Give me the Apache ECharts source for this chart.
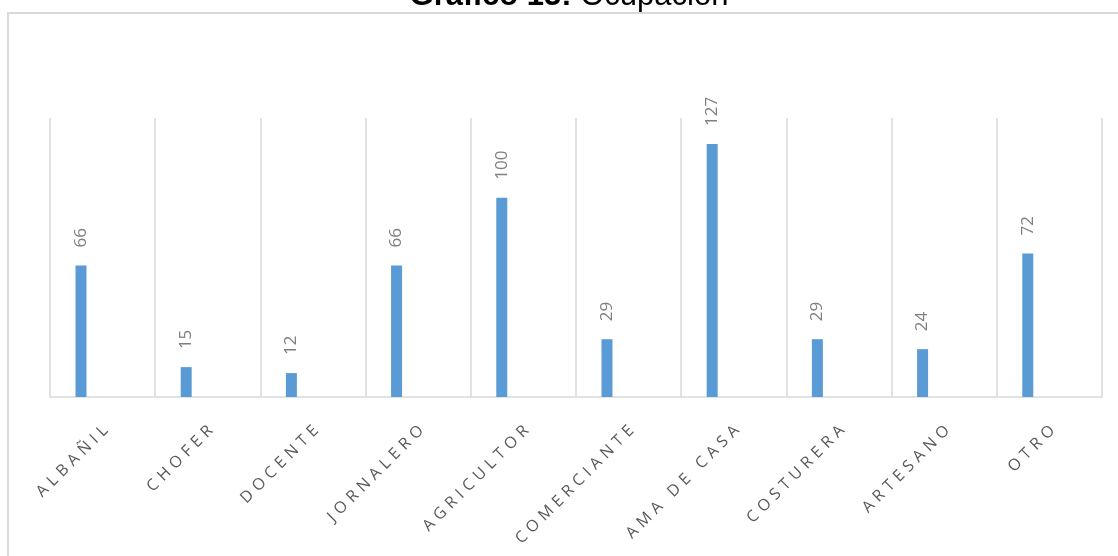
<!DOCTYPE html>
<html>
<head>
<meta charset="utf-8">
<script src="https://cdn.jsdelivr.net/npm/echarts@6/dist/echarts.min.js"></script>
<style>
html,body{margin:0;padding:0;background:#fff;}
#chart{width:1118px;height:556px;}
</style>
</head>
<body>
<div id="chart"></div>
<script>
const categories = ['ALBAÑIL','CHOFER','DOCENTE','JORNALERO','AGRICULTOR','COMERCIANTE','AMA DE CASA','COSTURERA','ARTESANO','OTRO'];
const values = [66, 15, 12, 66, 100, 29, 127, 29, 24, 72];
const emptyValues = [null, null, null, null, null, null, null, null, null, null];
const titleBold = 'Gráfico 13:';
const titleRegular = 'Ocupación';

// letter spacing for category labels (Excel-like spaced text)
(function(){
  const spaced = new Set(categories);
  const proto = CanvasRenderingContext2D.prototype;
  const orig = proto.fillText;
  proto.fillText = function(t, x, y, m){
    if (spaced.has(t) && ('letterSpacing' in this)) {
      this.save();
      this.letterSpacing = '5px';
      if (m === undefined) orig.call(this, t, x + 9, y); else orig.call(this, t, x + 9, y, m);
      this.restore();
    } else {
      if (m === undefined) orig.call(this, t, x, y); else orig.call(this, t, x, y, m);
    }
  };
})();

const chart = echarts.init(document.getElementById('chart'), null, {renderer:'canvas'});
chart.setOption({
  animation: false,
  backgroundColor: '#ffffff',
  graphic: [
    {type:'rect', shape:{x:8, y:13, width:1300, height:700}, style:{fill:'none', stroke:'#d9d9d9', lineWidth:2}, silent:true},
    {type:'text', x:569, y:-3.7, style:{
      text:'{b|' + titleBold + '} {r|' + titleRegular + '}',
      align:'center', verticalAlign:'middle',
      rich:{
        b:{fontFamily:'Liberation Sans', fontWeight:'bold', fontSize:31, fill:'#000'},
        r:{fontFamily:'Liberation Sans', fontSize:31, fill:'#000'}
      },
      fontFamily:'Liberation Sans', fontSize:31
    }}
  ],
  grid: {left:50, right:16, top:118, bottom:159, containLabel:false},
  xAxis: {
    type:'category',
    data: categories,
    axisLine:{show:true, lineStyle:{color:'#d9d9d9', width:1.5}},
    axisTick:{show:false},
    splitLine:{show:true, interval:0, lineStyle:{color:'#d9d9d9', width:1.5}},
    axisLabel:{interval:0, rotate:45, margin:34, fontFamily:'Open Sans', fontSize:16, color:'#595959'}
  },
  yAxis: {
    type:'value', min:0, max:140, show:false,
    splitLine:{show:false}
  },
  series: [
    {
      type:'bar', name:'Ocupación', data: values,
      barWidth:11, barGap:'293%',
      itemStyle:{color:'#5b9bd5'},
      label:{show:true, position:'top', distance:18, rotate:90, align:'left', verticalAlign:'middle',
        fontFamily:'Open Sans', fontSize:17, color:'#7f7f7f'}
    },
    {
      type:'bar', name:'', data: emptyValues, barWidth:11,
      itemStyle:{color:'#5b9bd5'}, silent:true
    }
  ]
});
</script>
</body>
</html>
